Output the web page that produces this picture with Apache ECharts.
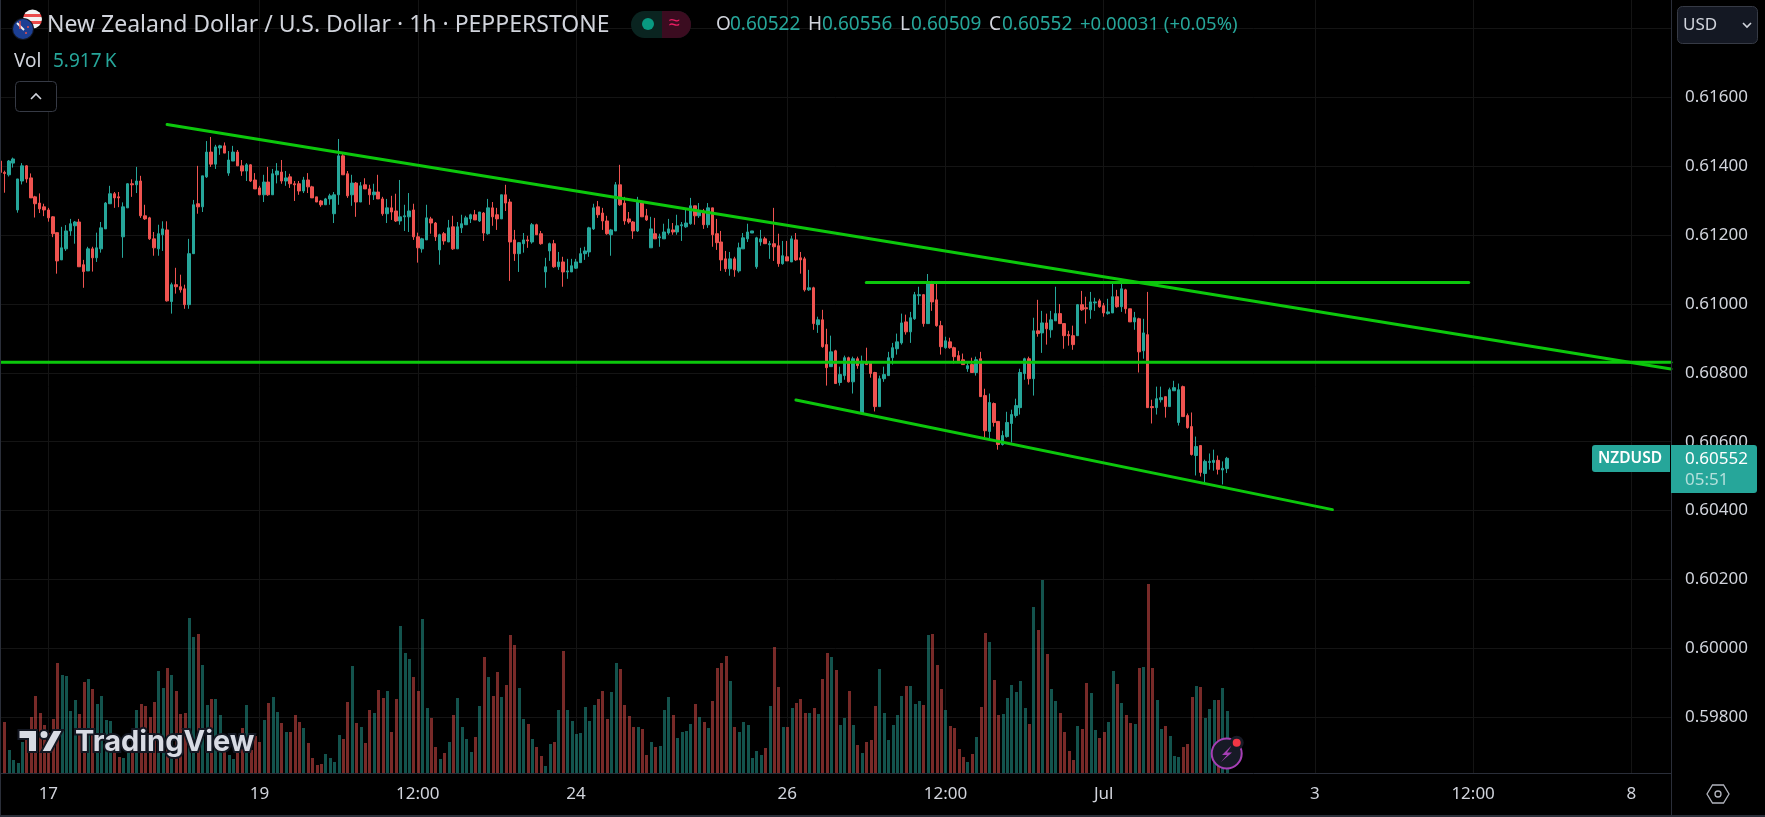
<!DOCTYPE html>
<html>
<head>
<meta charset="utf-8">
<title>NZDUSD</title>
<script src="https://cdn.jsdelivr.net/npm/echarts@6/dist/echarts.min.js"></script>
<style>
html, body { margin: 0; padding: 0; background: #000; }
#chart { width: 1765px; height: 817px; }
</style>
</head>
<body>
<div id="chart"></div>
<script>
// prices are in 1e-5 units, volumes in thousands
const opens = [
61415,61382,61375,61409,61273,61357,61401,61366,61311,61293,
61282,61273,61253,61207,61128,61160,61212,61227,61238,61114,
61096,61160,61134,61160,61218,61291,61320,61311,61195,61279,
61349,61346,61357,61256,61250,61189,61160,61201,61215,61007,
61056,61050,61044,60998,61146,61291,61282,61369,61441,61406,
61453,61459,61380,61415,61441,61401,61386,61404,61360,61337,
61317,61354,61317,61375,61383,61357,61369,61349,61349,61328,
61360,61340,61311,61299,61288,61305,61262,61317,61430,61378,
61317,61351,61296,61346,61334,61317,61325,61305,61262,61279,
61270,61241,61253,61253,61273,61195,61160,61186,61247,61235,
61157,61204,61180,61224,61160,61221,61230,61247,61259,61241,
61264,61204,61279,61259,61247,61317,61296,61186,61146,61175,
61186,61180,61230,61204,61093,61154,61175,61108,61122,61093,
61093,61104,61120,61146,61151,61218,61282,61264,61241,61201,
61212,61346,61293,61247,61238,61212,61296,61256,61163,61204,
61192,61189,61206,61215,61209,61227,61224,61233,61285,61256,
61270,61230,61279,61204,61180,61131,61102,61131,61096,61160,
61189,61206,61108,61180,61189,61172,61175,61169,61117,61137,
61122,61186,61134,61131,61041,61047,60940,60954,60882,60818,
60864,60772,60792,60844,60774,60841,60682,60832,60832,60801,
60702,60783,60792,60844,60870,60887,60948,60919,60957,61024,
61027,60943,61064,61012,60937,60873,60890,60873,60850,60838,
60812,60824,60801,60841,60734,60630,60711,60659,60592,60615,
60653,60676,60699,60798,60841,60783,60922,60916,60945,60925,
60951,60972,60943,60911,60908,60908,60998,60989,60983,61003,
61009,60995,60972,60974,61021,60992,61041,60986,60948,60957,
60864,60911,60702,60699,60722,60731,60702,60748,60656,60760,
60676,60644,60560,60589,60508,60540,60540,60546,60518,60522
];
const highs = [
61415,61387,61418,61425,61363,61409,61403,61379,61314,61321,
61291,61279,61255,61207,61224,61229,61247,61241,61247,61128,
61166,61166,61207,61238,61296,61343,61325,61325,61295,61351,
61362,61398,61372,61288,61253,61209,61230,61240,61240,61062,
61105,61085,61056,61189,61302,61401,61372,61473,61485,61462,
61462,61469,61444,61459,61447,61418,61409,61406,61380,61343,
61375,61398,61392,61409,61418,61386,61378,61357,61357,61369,
61380,61343,61311,61302,61308,61320,61325,61479,61435,61386,
61375,61354,61354,61365,61346,61349,61375,61311,61305,61314,
61320,61360,61288,61322,61291,61207,61192,61288,61253,61238,
61204,61209,61244,61256,61238,61259,61256,61262,61273,61267,
61267,61305,61296,61279,61317,61346,61305,61215,61180,61206,
61198,61235,61233,61212,61134,61178,61186,61151,61137,61131,
61131,61131,61163,61166,61224,61291,61299,61279,61256,61218,
61354,61404,61311,61267,61241,61311,61299,61276,61253,61250,
61204,61233,61247,61235,61259,61238,61273,61308,61285,61293,
61276,61293,61279,61247,61212,61154,61151,61137,61178,61206,
61233,61212,61195,61215,61195,61183,61279,61204,61183,61183,
61198,61206,61151,61137,61099,61050,60963,60983,60928,60908,
60867,60818,60850,60847,60847,60847,60850,60873,60832,60803,
60792,60818,60861,60887,60914,60972,60969,60977,61035,61050,
61029,61087,61067,61061,60951,60905,60902,60876,60864,60856,
60832,60844,60847,60861,60754,60740,60714,60659,60632,60687,
60693,60725,60812,60844,60847,60960,61012,60980,60972,60980,
61050,61000,60943,60922,60937,61000,61038,61021,61035,61018,
61015,61003,61015,61061,61041,61073,61044,60986,60977,60960,
60957,61035,60722,60760,60760,60731,60757,60777,60769,60763,
60682,60685,60615,60589,60548,60566,60577,60560,60543,60556
];
const lows = [
61382,61323,61370,61396,61265,61347,61352,61308,61251,61264,
61255,61239,61194,61088,61128,61154,61198,61175,61108,61047,
61096,61094,61122,61149,61218,61291,61279,61281,61134,61279,
61311,61322,61250,61244,61186,61140,61140,61154,61007,60972,
61030,61033,60986,60986,61146,61262,61267,61366,61398,61392,
61433,61438,61372,61415,61401,61372,61357,61354,61334,61316,
61296,61314,61317,61350,61349,61343,61337,61299,61317,61322,
61322,61308,61296,61282,61288,61288,61235,61288,61375,61308,
61285,61253,61296,61334,61288,61302,61305,61256,61235,61244,
61238,61230,61212,61209,61186,61120,61149,61186,61204,61183,
61114,61172,61180,61157,61160,61206,61230,61235,61244,61238,
61183,61201,61227,61215,61247,61270,61067,61125,61093,61149,
61163,61175,61201,61172,61047,61125,61105,61099,61050,61073,
61093,61102,61120,61128,61137,61215,61250,61215,61201,61140,
61212,61285,61230,61233,61189,61209,61253,61241,61163,61189,
61166,61189,61201,61201,61201,61183,61221,61230,61230,61250,
61218,61221,61166,61157,61096,61093,61082,61079,61091,61160,
61180,61206,61102,61169,61175,61131,61125,61108,61114,61125,
61122,61125,61088,61036,61038,60925,60916,60873,60763,60818,
60769,60763,60780,60772,60740,60812,60682,60824,60786,60688,
60702,60774,60792,60824,60853,60882,60911,60887,60954,60998,
60934,60943,60980,60934,60853,60870,60870,60827,60832,60824,
60803,60801,60792,60731,60609,60609,60644,60577,60589,60612,
60598,60670,60679,60780,60766,60734,60905,60858,60882,60902,
60951,60943,60870,60879,60867,60908,60980,60943,60957,60980,
60989,60963,60969,60974,60989,60977,60972,60948,60925,60801,
60841,60699,60653,60679,60714,60670,60702,60748,60647,60673,
60638,60560,60502,60499,60476,60519,60516,60505,60476,60509
];
const closes = [
61382,61379,61415,61421,61363,61401,61363,61308,61291,61276,
61273,61250,61204,61125,61163,61212,61233,61238,61108,61094,
61160,61134,61163,61221,61293,61320,61308,61308,61282,61349,
61346,61357,61256,61247,61189,61163,61204,61218,61009,61056,
61050,61041,60998,61146,61288,61282,61372,61441,61406,61456,
61459,61438,61418,61441,61401,61386,61404,61357,61334,61317,
61354,61317,61378,61386,61357,61366,61349,61346,61328,61360,
61340,61308,61296,61288,61305,61314,61317,61430,61375,61314,
61351,61296,61343,61334,61317,61325,61305,61262,61279,61267,
61241,61253,61256,61270,61195,61163,61189,61250,61235,61195,
61201,61183,61221,61160,61224,61233,61250,61259,61244,61267,
61206,61279,61253,61247,61317,61293,61180,61146,61178,61186,
61183,61230,61201,61175,61108,61175,61108,61122,61093,61096,
61111,61122,61146,61154,61221,61279,61259,61241,61204,61215,
61346,61288,61241,61238,61212,61299,61253,61244,61218,61189,
61195,61209,61218,61209,61227,61230,61235,61285,61256,61270,
61230,61279,61201,61178,61128,61102,61131,61099,61163,61192,
61209,61212,61192,61189,61175,61175,61166,61117,61140,61125,
61189,61128,61128,61041,61047,60943,60954,60876,60815,60861,
60769,60795,60844,60774,60841,60821,60834,60824,60798,60702,
60783,60795,60844,60873,60890,60945,60919,60960,61027,61027,
60943,61064,61006,60937,60876,60893,60873,60847,60832,60824,
60821,60801,60838,60731,60632,60714,60656,60592,60618,60656,
60679,60705,60801,60841,60783,60922,60914,60945,60928,60954,
60972,60943,60908,60908,60882,60998,60983,60986,61006,61006,
60992,60974,60977,61021,60992,61044,60986,60948,60960,60861,
60916,60699,60699,60725,60728,60702,60751,60757,60751,60673,
60641,60563,60586,60511,60543,60543,60546,60520,60523,60552
];
const volumes = [
null,4.90,2.23,1.27,0.99,2.99,3.18,5.37,7.38,5.76,
4.61,3.82,5.18,10.53,9.38,9.29,5.95,7.00,5.66,8.71,
9.00,8.05,6.61,7.38,5.09,4.99,2.70,1.56,1.46,1.91,
2.54,6.04,6.61,6.42,5.37,6.81,9.76,8.14,10.05,9.38,
7.85,5.66,5.76,14.82,13.01,13.29,10.34,6.52,7.09,7.09,
5.57,2.23,1.75,1.37,3.18,4.32,6.52,2.23,3.50,2.99,
5.09,6.71,7.28,5.85,4.80,3.94,3.94,5.57,4.90,4.32,
2.89,1.46,0.80,0.89,1.84,1.46,1.08,3.66,3.28,6.81,
10.24,4.80,4.42,2.89,6.04,5.76,7.95,7.19,7.85,3.94,
7.09,14.06,11.48,10.91,9.19,7.85,14.72,6.23,5.28,2.51,
1.37,1.94,2.99,5.57,7.19,4.42,3.28,2.04,3.47,6.42,
11.10,9.19,7.38,9.67,7.28,8.43,13.20,12.24,8.14,5.18,
4.71,3.28,2.51,1.65,0.70,2.80,2.99,6.04,11.67,6.04,
4.99,3.75,3.85,6.33,4.99,6.52,7.09,7.85,5.18,7.76,
10.53,9.95,6.52,5.47,4.42,4.42,4.23,1.75,2.99,2.51,
2.61,6.04,7.28,5.57,3.37,3.94,4.04,4.71,6.61,5.37,
4.90,4.32,6.90,10.05,10.53,11.19,8.81,4.42,3.94,4.90,
4.61,1.46,2.13,1.75,2.42,6.42,12.05,8.24,4.42,4.42,
6.23,6.71,7.09,5.76,5.76,6.23,5.66,9.00,11.48,11.10,
9.86,4.61,5.28,7.85,4.61,2.70,1.94,2.99,3.18,6.42,
9.95,5.76,3.18,4.61,5.57,7.38,8.33,8.33,6.61,6.90,
6.52,13.20,13.29,10.34,8.05,6.04,4.52,4.32,2.32,1.56,
1.08,1.84,3.47,6.33,13.39,12.53,8.90,5.57,5.66,7.19,
8.43,7.76,8.81,6.23,4.71,15.87,13.67,18.44,11.38,8.05,
6.90,5.76,3.94,2.13,1.27,4.52,4.23,8.62,7.66,4.13,
3.37,3.94,4.90,9.76,8.52,6.71,5.57,4.80,4.71,10.05,
10.14,18.06,10.05,7.00,4.23,4.52,3.56,1.65,1.56,2.51,
2.80,7.28,8.33,8.24,5.28,6.14,7.00,7.00,8.14,5.92
];

// x axis: one slot per hour, including the empty future part of the chart
const slotCount = 381;
const tickSlots = [11, 59, 95, 131, 179, 215, 251, 299, 335, 371];
const tickLabels = ['17', '19', '12:00', '24', '26', '12:00', 'Jul', '3', '12:00', '8'];
const priceTicks = [59800, 60000, 60200, 60400, 60600, 60800, 61000, 61200, 61400, 61600];
const priceGrid = priceTicks.concat([61800]);

// drawn trend lines: [slot, price] pairs
const trendUpper = [[38, 61521], [380, 60811]];
const supportFlat = [[0, 60831], [380, 60831]];
const resistFlat = [[197, 61062], [334, 61062]];
const trendLower = [[181, 60721], [303, 60403]];

const UP = '#26a69a';
const DOWN = '#ef5350';
const LINE_GREEN = '#0cc70c';
const FONT = '"Noto Sans", sans-serif';

const categories = [];
for (let k = 0; k < slotCount; k++) categories.push('h' + k);

const candleData = opens.map((o, k) => [o, closes[k], lows[k], highs[k]]);
const volumeData = volumes.map((v, k) => [k, v]);

// volume bars snapped to whole pixels
function renderVolume (params, api) {
    const k = api.value(0);
    const v = api.value(1);
    if (isNaN(v)) return null;
    const top = api.coord([k, v]);
    const base = api.coord([k, 0]);
    return {
        type: 'rect',
        shape: { x: Math.round(top[0]) - 1, y: Math.round(top[1]), width: 3, height: Math.round(base[1]) - Math.round(top[1]) },
        style: { fill: closes[k] >= opens[k] ? 'rgba(38,166,154,0.5)' : 'rgba(239,83,80,0.5)' }
    };
}

function trendSeries (points) {
    return {
        type: 'line',
        data: points,
        yAxisIndex: 0,
        symbol: 'none',
        silent: true,
        animation: false,
        z: 6,
        lineStyle: { color: LINE_GREEN, width: 3, cap: 'round' }
    };
}

function txt (text, x, y, size, fill, extra) {
    return {
        type: 'text',
        z: 30,
        style: Object.assign({
            text: text,
            x: x,
            y: y,
            fill: fill,
            font: size + 'px ' + FONT,
            textVerticalAlign: 'middle'
        }, extra || {})
    };
}

const chrome = [
    // panel borders
    { type: 'rect', z: 20, shape: { x: 0, y: 0, width: 1, height: 817 }, style: { fill: '#2a2e39' } },
    { type: 'rect', z: 20, shape: { x: 1671, y: 0, width: 1, height: 817 }, style: { fill: '#2a2e39' } },
    { type: 'rect', z: 20, shape: { x: 0, y: 815, width: 1765, height: 2 }, style: { fill: '#2a2e39' } },

    // flags
    { type: 'circle', z: 25, shape: { cx: 32.5, cy: 19, r: 9.5 }, style: { fill: {
        type: 'linear', x: 0, y: 0, x2: 0, y2: 1,
        colorStops: [
            { offset: 0, color: '#f2f2f2' }, { offset: 0.22, color: '#f2f2f2' },
            { offset: 0.22, color: '#ea4a4a' }, { offset: 0.4, color: '#ea4a4a' },
            { offset: 0.4, color: '#f2f2f2' }, { offset: 0.58, color: '#f2f2f2' },
            { offset: 0.58, color: '#ea4a4a' }, { offset: 0.76, color: '#ea4a4a' },
            { offset: 0.76, color: '#f2f2f2' }, { offset: 1, color: '#f2f2f2' }
        ]
    } } },
    { type: 'circle', z: 26, shape: { cx: 23, cy: 29, r: 11 }, style: { fill: '#131722' } },
    { type: 'circle', z: 27, shape: { cx: 23, cy: 29, r: 10 }, style: { fill: '#1c3f94' } },
    { type: 'line', z: 28, shape: { x1: 17, y1: 23, x2: 24, y2: 30 }, style: { stroke: '#f2f2f2', lineWidth: 2 } },
    { type: 'line', z: 28, shape: { x1: 20, y1: 21, x2: 20, y2: 29 }, style: { stroke: '#e8504f', lineWidth: 1.4 } },
    { type: 'circle', z: 28, shape: { cx: 28, cy: 27, r: 1 }, style: { fill: '#e8504f' } },
    { type: 'circle', z: 28, shape: { cx: 26, cy: 33, r: 1 }, style: { fill: '#e8504f' } },

    // header
    txt('New Zealand Dollar / U.S. Dollar · 1h · PEPPERSTONE', 47, 25, 23, '#d1d4dc'),
    { type: 'rect', z: 25, shape: { x: 631, y: 11, width: 60, height: 27, r: [13.5, 13.5, 13.5, 13.5] }, style: { fill: '#0a2420' } },
    { type: 'rect', z: 26, shape: { x: 662, y: 11, width: 29, height: 27, r: [0, 13.5, 13.5, 0] }, style: { fill: '#3b0c20' } },
    { type: 'circle', z: 27, shape: { cx: 648, cy: 24, r: 6 }, style: { fill: '#089981' } },
    txt('≈', 669, 23, 20, '#e91e63'),

    txt('O', 716, 25, 19, '#d1d4dc'),
    txt('0.60522', 730, 25, 19, UP),
    txt('H', 808, 25, 19, '#d1d4dc'),
    txt('0.60556', 822, 25, 19, UP),
    txt('L', 900, 25, 19, '#d1d4dc'),
    txt('0.60509', 911, 25, 19, UP),
    txt('C', 989, 25, 19, '#d1d4dc'),
    txt('0.60552', 1002, 25, 19, UP),
    txt('+0.00031 (+0.05%)', 1080, 25, 18.5, UP),

    txt('Vol', 14, 61.5, 19, '#d1d4dc'),
    txt('5.917\u2009K', 53, 61.5, 19, UP),

    // collapse button
    { type: 'rect', z: 25, shape: { x: 15.5, y: 81.5, width: 41, height: 30, r: 4 }, style: { fill: '#000', stroke: '#363a45', lineWidth: 1 } },
    { type: 'polyline', z: 26, shape: { points: [[31, 99], [36, 94], [41, 99]] }, style: { fill: 'none', stroke: '#d1d4dc', lineWidth: 1.6 } },

    // currency button
    { type: 'rect', z: 25, shape: { x: 1677.5, y: 6.5, width: 80, height: 37, r: 5 }, style: { fill: '#141823', stroke: '#363a45', lineWidth: 1 } },
    txt('USD', 1683, 25, 17, '#d1d4dc'),
    { type: 'polyline', z: 26, shape: { points: [[1743, 23], [1747, 27], [1751, 23]] }, style: { fill: 'none', stroke: '#d1d4dc', lineWidth: 1.6 } },

    // last price tags
    { type: 'rect', z: 25, shape: { x: 1592, y: 445, width: 78, height: 27, r: [3, 0, 0, 3] }, style: { fill: UP } },
    txt('NZDUSD', 1598, 459, 15.5, '#fff', { font: '600 15.5px ' + FONT }),
    { type: 'rect', z: 25, shape: { x: 1671, y: 445, width: 86, height: 48, r: [0, 3, 3, 0] }, style: { fill: UP } },
    txt('0.60552', 1685, 459, 17, '#fff'),
    txt('05:51', 1685, 480, 17, 'rgba(255,255,255,0.65)'),

    // settings icon
    { type: 'polygon', z: 25, shape: { points: [[1707, 794], [1712.5, 785], [1723.5, 785], [1729, 794], [1723.5, 803], [1712.5, 803]] }, style: { fill: 'none', stroke: '#b2b5be', lineWidth: 1.3 } },
    { type: 'circle', z: 25, shape: { cx: 1718, cy: 794, r: 3 }, style: { fill: 'none', stroke: '#b2b5be', lineWidth: 1.3 } },

    // watermark
    { type: 'polygon', z: 25, shape: { points: [[18.5, 730], [37, 730], [37, 752], [28, 752], [28, 739], [18.5, 739]] }, style: { fill: '#d8dbe4', stroke: '#131722', lineWidth: 2 } },
    { type: 'circle', z: 25, shape: { cx: 44, cy: 734.5, r: 4.5 }, style: { fill: '#d8dbe4', stroke: '#131722', lineWidth: 2 } },
    { type: 'polygon', z: 25, shape: { points: [[53, 730], [63, 730], [51, 752], [41, 752]] }, style: { fill: '#d8dbe4', stroke: '#131722', lineWidth: 2 } },
    { type: 'text', z: 25, style: { text: 'TradingView', x: 75, y: 742, fill: '#d8dbe4', stroke: '#131722', lineWidth: 4, font: '700 29px Inter, sans-serif', textVerticalAlign: 'middle' } },

    // bolt badge
    { type: 'circle', z: 25, shape: { cx: 1226.7, cy: 753.5, r: 15 }, style: { fill: '#171a26', stroke: '#a63fb5', lineWidth: 2 } },
    { type: 'polygon', z: 26, shape: { points: [[1232, 745], [1222, 755], [1227, 755], [1221, 762], [1232, 752.5], [1227, 752.5]] }, style: { fill: '#a63fb5' } },
    { type: 'circle', z: 26, shape: { cx: 1236.7, cy: 742.7, r: 7 }, style: { fill: '#171a26' } },
    { type: 'circle', z: 27, shape: { cx: 1236.7, cy: 742.7, r: 4 }, style: { fill: '#f23645' } }
];

const chart = echarts.init(document.getElementById('chart'), null, { renderer: 'canvas' });
chart.setOption({
    animation: false,
    backgroundColor: '#000',
    grid: { left: 0, top: 0, width: 1671, height: 773 },
    xAxis: {
        type: 'category',
        data: categories,
        boundaryGap: false,
        axisLine: { show: true, lineStyle: { color: '#2a2e39', width: 1 } },
        axisTick: { show: false },
        axisLabel: {
            color: '#d1d4dc',
            fontSize: 17,
            fontFamily: FONT,
            margin: 13,
            interval: function (k) { return tickSlots.indexOf(k) >= 0; },
            formatter: function (v, k) { return tickLabels[tickSlots.indexOf(k)]; }
        },
        splitLine: {
            show: true,
            interval: function (k) { return tickSlots.indexOf(k) >= 0; },
            lineStyle: { color: '#141414', width: 1 }
        }
    },
    yAxis: [
        {
            type: 'value',
            position: 'right',
            min: 59638.3,
            max: 61882.5,
            axisLine: { show: false },
            axisTick: { show: false, customValues: priceGrid },
            axisLabel: {
                color: '#d1d4dc',
                fontSize: 17,
                fontFamily: FONT,
                margin: 14,
                padding: [3, 0, 0, 0],
                customValues: priceTicks,
                formatter: function (v) { return (v / 100000).toFixed(5); }
            },
            splitLine: { show: true, lineStyle: { color: '#141414', width: 1 } }
        },
        { type: 'value', show: false, min: 0, max: 73.7, splitLine: { show: false } }
    ],
    series: [
        {
            type: 'custom',
            yAxisIndex: 1,
            data: volumeData,
            renderItem: renderVolume,
            encode: { x: 0, y: 1 },
            silent: true,
            z: 2
        },
        {
            type: 'candlestick',
            yAxisIndex: 0,
            data: candleData,
            barWidth: 3,
            silent: true,
            z: 3,
            itemStyle: {
                color: UP,
                color0: DOWN,
                borderColor: UP,
                borderColor0: DOWN,
                borderWidth: 1
            }
        },
        trendSeries(trendUpper),
        trendSeries(supportFlat),
        trendSeries(resistFlat),
        trendSeries(trendLower)
    ],
    graphic: { elements: chrome }
});
</script>
</body>
</html>
